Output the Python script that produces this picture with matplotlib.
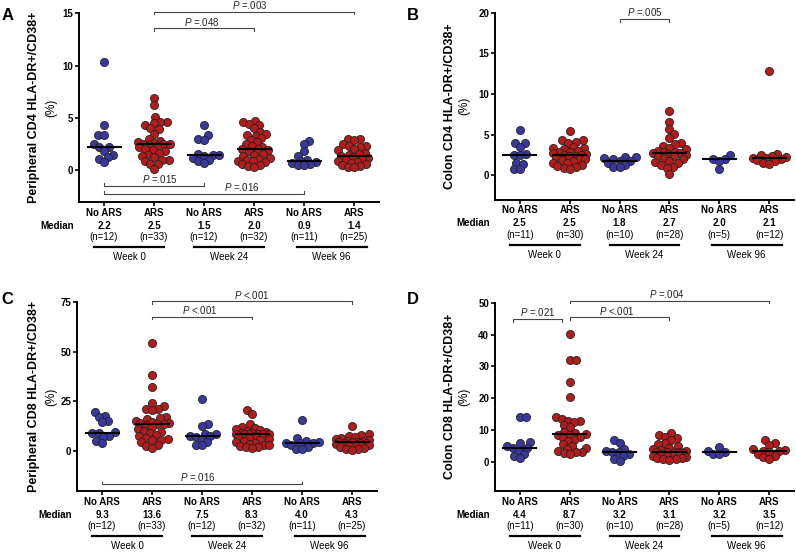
import numpy as np
import matplotlib
from matplotlib import pyplot as plt

matplotlib.use('Agg')

plt.rcParams['font.family'] = ['Liberation Sans', 'DejaVu Sans']
plt.rcParams['mathtext.fontset'] = 'custom'
plt.rcParams['mathtext.it'] = 'Liberation Sans:italic'
plt.rcParams['mathtext.rm'] = 'Liberation Sans'

# groups shared by all four panels
groups = ['No ARS', 'ARS', 'No ARS', 'ARS', 'No ARS', 'ARS']
weeks = ['Week 0', 'Week 24', 'Week 96']
group_colors = ['#3838a0', '#b41c1c', '#3838a0', '#b41c1c', '#3838a0', '#b41c1c']

# A: peripheral CD4
a_values = [
    [10.3, 4.3, 3.4, 3.4, 2.5, 2.2, 2.2, 1.8, 1.5, 1.3, 1.1, 0.8],
    [6.9, 6.2, 5.1, 4.6, 4.6, 4.5, 4.3, 4.0, 3.9, 3.5, 3.0, 2.8, 2.7, 2.6, 2.5, 2.5, 2.5,
     2.4, 2.3, 2.2, 2.0, 1.9, 1.8, 1.7, 1.5, 1.4, 1.3, 1.0, 1.0, 0.9, 0.6, 0.6, 0.1],
    [4.3, 3.4, 3.0, 2.9, 1.6, 1.5, 1.5, 1.4, 1.2, 1.0, 0.9, 0.7],
    [4.7, 4.6, 4.4, 4.3, 4.0, 3.7, 3.5, 3.4, 3.3, 3.1, 2.9, 2.7, 2.5, 2.3, 2.2, 2.0,
     2.0, 1.9, 1.8, 1.6, 1.5, 1.4, 1.2, 1.1, 1.0, 0.9, 0.9, 0.8, 0.6, 0.5, 0.4, 0.3],
    [2.8, 2.5, 1.8, 1.4, 1.0, 0.9, 0.8, 0.7, 0.6, 0.5, 0.5],
    [3.0, 3.0, 2.9, 2.5, 2.3, 2.3, 2.2, 2.0, 1.9, 1.7, 1.6, 1.5, 1.4, 1.3, 1.2, 1.1,
     1.0, 0.9, 0.8, 0.7, 0.6, 0.5, 0.4, 0.3, 0.3],
]
a_medians = ['2.2', '2.5', '1.5', '2.0', '0.9', '1.4']
a_counts = [12, 33, 12, 32, 11, 25]
a_pvalues = [(2, 6, 15.15, '=.003', 3.92), (2, 4, 13.55, '=.048', 2.95),
             (1, 3, -1.5, '=.015', 2.12), (1, 5, -2.24, '=.016', 3.75)]

# B: colon CD4
b_values = [
    [5.5, 4.0, 3.9, 3.5, 2.6, 2.5, 2.5, 1.5, 1.4, 0.8, 0.7],
    [5.4, 4.3, 4.3, 4.1, 4.0, 3.5, 3.4, 3.3, 3.2, 3.0, 2.9, 2.8, 2.7, 2.6, 2.5,
     2.5, 2.4, 2.3, 2.2, 2.0, 2.0, 1.9, 1.7, 1.5, 1.5, 1.3, 1.1, 1.0, 0.9, 0.8],
    [2.2, 2.2, 2.1, 2.0, 1.8, 1.8, 1.5, 1.3, 1.0, 1.0],
    [7.9, 6.5, 5.7, 5.1, 4.6, 3.9, 3.8, 3.6, 3.4, 3.2, 3.0, 2.9, 2.8, 2.7,
     2.7, 2.6, 2.5, 2.4, 2.3, 2.1, 2.0, 1.8, 1.6, 1.5, 1.3, 1.0, 0.9, 0.2],
    [2.5, 2.0, 2.0, 1.8, 0.8],
    [12.8, 2.6, 2.5, 2.3, 2.2, 2.1, 2.1, 2.0, 1.9, 1.7, 1.5, 1.4],
]
b_medians = ['2.5', '2.5', '1.8', '2.7', '2.0', '2.1']
b_counts = [11, 30, 10, 28, 5, 12]
b_pvalues = [(3, 4, 19.2, '=.005', 3.5)]

# C: peripheral CD8
c_values = [
    [19.8, 17.8, 17.3, 15.0, 14.5, 9.5, 9.1, 9.0, 7.7, 6.9, 5.2, 3.8],
    [54.5, 38.5, 32.0, 24.0, 22.5, 21.0, 21.0, 20.5, 17.0, 16.5, 16.0, 15.0, 14.5, 14.0,
     14.0, 13.8, 13.6, 13.0, 12.0, 11.0, 10.0, 9.5, 9.0, 8.0, 7.5, 6.5, 6.0, 5.5, 5.5,
     4.5, 3.0, 2.5, 1.5],
    [26.0, 13.5, 12.5, 8.5, 8.3, 7.6, 7.4, 7.0, 6.0, 4.5, 3.0, 2.8],
    [20.5, 18.5, 13.5, 12.0, 11.5, 11.0, 10.5, 10.0, 9.5, 9.0, 8.8, 8.6, 8.5, 8.4, 8.3,
     8.3, 8.3, 7.5, 7.0, 6.5, 6.0, 5.5, 5.0, 4.5, 4.0, 3.5, 3.0, 3.0, 2.5, 2.0, 2.0, 1.5],
    [15.5, 6.5, 5.0, 4.5, 4.2, 4.0, 3.8, 3.0, 2.0, 1.0, 0.8],
    [12.5, 8.5, 8.0, 7.5, 7.0, 6.5, 6.0, 5.5, 5.0, 4.8, 4.6, 4.4, 4.3, 4.2, 4.0, 3.8,
     3.5, 3.0, 2.8, 2.5, 2.0, 1.5, 1.2, 1.0, 0.5],
]
c_medians = ['9.3', '13.6', '7.5', '8.3', '4.0', '4.3']
c_counts = [12, 33, 12, 32, 11, 25]
c_pvalues = [(2, 6, 75.3, '<.001', 4.0), (2, 4, 67.5, '<.001', 2.95),
             (1, 5, -16.7, '=.016', 2.92)]

# D: colon CD8
d_values = [
    [14.2, 14.2, 6.2, 6.0, 5.0, 4.4, 4.3, 3.5, 2.6, 1.8, 1.2],
    [40.3, 32.0, 32.0, 25.0, 20.3, 14.2, 13.5, 13.0, 12.8, 12.5, 11.5, 11.0, 9.5, 9.0,
     8.8, 8.6, 8.5, 8.0, 7.5, 7.0, 6.5, 5.5, 5.0, 4.5, 4.0, 3.5, 3.2, 3.0, 2.8, 2.5],
    [6.8, 6.0, 4.0, 3.5, 3.3, 3.1, 2.5, 1.8, 1.0, 0.2],
    [9.0, 8.6, 8.0, 7.5, 7.0, 6.0, 5.5, 5.0, 4.5, 4.0, 3.8, 3.5, 3.3, 3.2, 3.0, 3.0,
     2.8, 2.7, 2.5, 2.3, 2.0, 1.8, 1.5, 1.3, 1.2, 1.0, 0.8, 0.5],
    [4.8, 3.6, 3.2, 2.5, 2.4],
    [6.8, 6.0, 5.2, 4.0, 3.8, 3.6, 3.4, 3.0, 2.5, 2.0, 1.5, 1.0],
]
d_medians = ['4.4', '8.7', '3.2', '3.1', '3.2', '3.5']
d_counts = [11, 30, 10, 28, 5, 12]
d_pvalues = [(0.86, 1.84, 44.9, '=.021', 1.35), (2, 4, 45.4, '<.001', 2.95),
             (2, 6, 50.6, '=.004', 3.95)]

panels = [
    dict(letter='A', box=(79, 13.3, 379, 201.7), ylim=(-3, 15), yticks=[0, 5, 10, 15],
         ylabel='Peripheral CD4 HLA-DR+/CD38+', values=a_values, medians=a_medians,
         counts=a_counts, pvalues=a_pvalues, letter_at=(7.5, 16), label_x=(34, 51)),
    dict(letter='B', box=(495, 12.7, 794, 199.5), ylim=(-3, 20), yticks=[0, 5, 10, 15, 20],
         ylabel='Colon CD4 HLA-DR+/CD38+', values=b_values, medians=b_medians,
         counts=b_counts, pvalues=b_pvalues, letter_at=(413, 16), label_x=(450, 464)),
    dict(letter='C', box=(77, 302, 377, 490.7), ylim=(-20, 75), yticks=[0, 25, 50, 75],
         ylabel='Peripheral CD8 HLA-DR+/CD38+', values=c_values, medians=c_medians,
         counts=c_counts, pvalues=c_pvalues, letter_at=(7.5, 300), label_x=(34, 51)),
    dict(letter='D', box=(495, 302.7, 794, 490.7), ylim=(-9, 50),
         yticks=[0, 10, 20, 30, 40, 50],
         ylabel='Colon CD8 HLA-DR+/CD38+', values=d_values, medians=d_medians,
         counts=d_counts, pvalues=d_pvalues, letter_at=(413, 300), label_x=(450, 464)),
]

W, H = 796, 554


def swarm(ys, diam, limit):
    # simple beeswarm, points may overlap once the spread hits the limit
    order = np.argsort(ys)
    xs = np.zeros(len(ys))
    placed = []
    for k, i in enumerate(order):
        y = ys[i]
        cands = [0.0]
        for px, py in placed:
            dy = abs(y - py)
            if dy < diam:
                dx = np.sqrt(diam ** 2 - dy ** 2)
                cands += [px + dx, px - dx]
        sign = 1 if k % 2 else -1
        cands.sort(key=lambda c: (round(abs(c), 3), sign * c))
        best = None
        for c in cands:
            if abs(c) > limit:
                continue
            if all((c - px) ** 2 + (y - py) ** 2 >= diam ** 2 - 1e-6 for px, py in placed):
                best = c
                break
        if best is None:
            # no free spot inside the limit: take the least crowded one
            grid = np.linspace(-limit, limit, 13)
            best = max(grid, key=lambda c: min(((c - px) ** 2 + (y - py) ** 2
                                                 for px, py in placed), default=1e9))
        xs[i] = best
        placed.append((best, y))
    return xs


fig = plt.figure(figsize=(W / 100, H / 100), dpi=100)

for p in panels:
    l, t, r, b = p['box']
    ax = fig.add_axes([l / W, 1 - b / H, (r - l) / W, (b - t) / H])
    ax.set_xlim(0.5, 6.5)
    ax.set_ylim(*p['ylim'])
    for s in ['top', 'right']:
        ax.spines[s].set_visible(False)
    for s in ['left', 'bottom']:
        ax.spines[s].set_linewidth(1.4)
    ax.set_yticks(p['yticks'])
    ax.set_yticklabels([str(v) for v in p['yticks']], fontsize=7, fontweight='bold')
    ax.set_xticks(range(1, 7))
    ax.set_xticklabels(groups, fontsize=7, fontweight='bold')
    ax.tick_params(axis='both', direction='out', length=3, width=1.2, pad=1.2)

    ax_h = ax.bbox.height
    x_px = ax.transData.transform((1, 0))[0] - ax.transData.transform((0, 0))[0]
    y_px = ax.transData.transform((0, 1))[1] - ax.transData.transform((0, 0))[1]

    for i, vals in enumerate(p['values']):
        vals = np.array(vals)
        dx = swarm(vals * y_px, 6.3, 16.5) / x_px
        ax.scatter(i + 1 + dx, vals, s=34, color=group_colors[i], edgecolors='#222222',
                   linewidths=0.6, zorder=2, clip_on=False)
        m = float(p['medians'][i])
        ax.plot([i + 1 - 0.33, i + 1 + 0.33], [m, m], color='black', lw=1.5, zorder=3)

    # significance brackets
    tick = 2.6 / y_px
    for x1, x2, y, txt, tx in p['pvalues']:
        h = tick if y > 0 else -tick
        ax.plot([x1, x1, x2, x2], [y - h, y, y, y - h], color='#444444', lw=0.8,
                clip_on=False)
        ax.annotate('$P$ ' + txt, xy=(tx, y), xytext=(0, 2.0), textcoords='offset points',
                    ha='center', va='baseline', fontsize=7, color='#222222',
                    annotation_clip=False)

    # table under the x axis
    tr = ax.get_xaxis_transform()
    ax.text(0.07, -27 / ax_h, 'Median', transform=tr, ha='center', va='baseline',
            fontsize=7, fontweight='bold')
    for i in range(6):
        ax.text(i + 1, -27 / ax_h, p['medians'][i], transform=tr, ha='center',
                va='baseline', fontsize=7, fontweight='bold')
        ax.text(i + 1, -38.5 / ax_h, '(n=%d)' % p['counts'][i], transform=tr,
                ha='center', va='baseline', fontsize=7)
    for j, wk in enumerate(weeks):
        c = [1.5, 3.5, 5.55][j]
        ax.plot([c - 0.7, c + 0.7], [-45.5 / ax_h] * 2, transform=tr, color='black',
                lw=1.6, clip_on=False)
        ax.text(c, -58.5 / ax_h, wk, transform=tr, ha='center', va='baseline', fontsize=7)

    yc = 1 - (t + b) / 2 / H
    fig.text(p['label_x'][0] / W, yc, p['ylabel'], rotation=90, ha='center', va='center',
             fontsize=9, fontweight='bold')
    fig.text(p['label_x'][1] / W, yc, '(%)', rotation=90, ha='center', va='center',
             fontsize=8.5)
    fig.text(p['letter_at'][0] / W, 1 - p['letter_at'][1] / H, p['letter'], ha='center',
             va='center', fontsize=12, fontweight='bold')

fig.savefig('out.png', dpi=100)
